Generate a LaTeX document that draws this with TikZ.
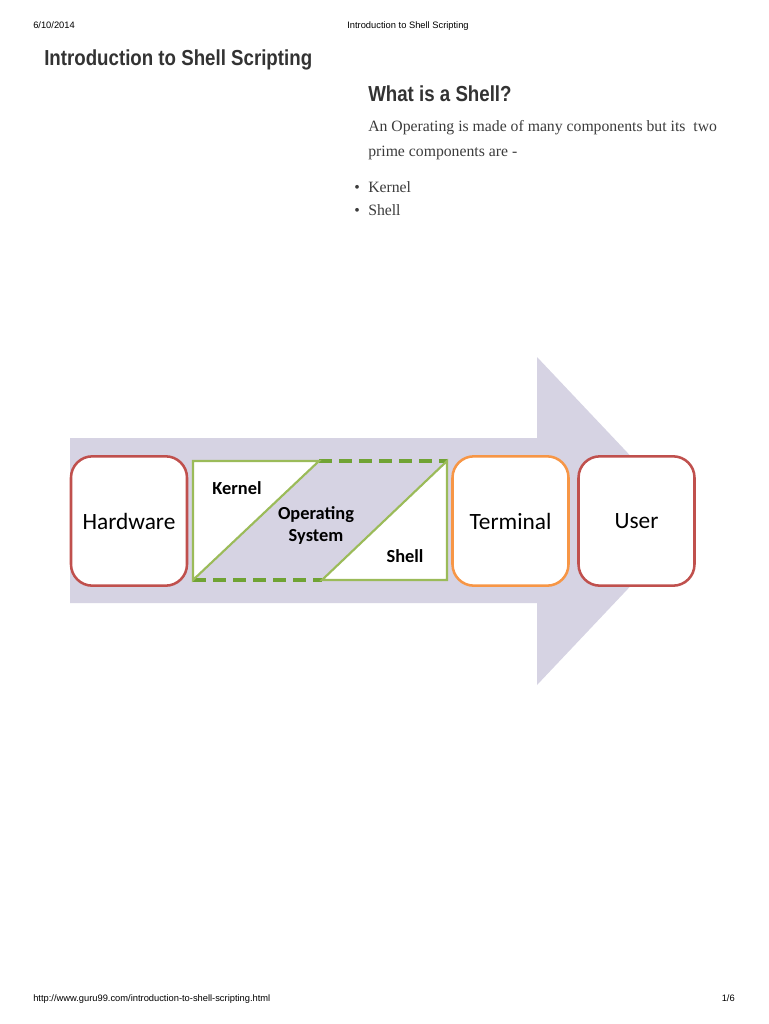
\documentclass[tikz,border=0pt]{standalone}
\usepackage{fontspec}
\setmainfont{Liberation Serif}
\newfontfamily\arialf{Liberation Sans}
\newfontfamily\calf{Carlito}
\definecolor{arrowgray}{RGB}{214,211,227}
\definecolor{boxred}{RGB}{192,80,77}
\definecolor{boxorange}{RGB}{247,150,70}
\definecolor{osgreen}{RGB}{155,187,89}
\definecolor{osdash}{RGB}{112,163,52}
\definecolor{titlegray}{RGB}{51,51,51}
\definecolor{bodygray}{RGB}{60,60,60}
\begin{document}
\begin{tikzpicture}[x=0.75pt,y=-0.75pt,
  stagebox/.style={draw, fill=white, line width=1.9pt, rounded corners=16pt,
    minimum width=87pt, minimum height=97pt, font=\calf\fontsize{17.5}{19}\selectfont, inner sep=0pt},
  oslabel/.style={font=\calf\bfseries\fontsize{13.8}{16.5}\selectfont, align=center, inner sep=0pt},
  hdr/.style={font=\arialf\fontsize{7}{8}\selectfont, inner sep=0pt},
  heading/.style={font=\arialf\bfseries\fontsize{16.3}{18}\selectfont, text=titlegray, inner sep=0pt, anchor=base west},
  bodytext/.style={font=\fontsize{11.8}{14}\selectfont, text=bodygray, inner sep=0pt, anchor=base west},
  solidgreen/.style={draw=osgreen, line width=1.6pt},
  dashgreen/.style={draw=osdash, line width=3pt, dash pattern=on 10pt off 5pt}
]
\useasboundingbox (0,0) rectangle (768,1024);
\fill[white] (0,0) rectangle (768,1024);
% header / footer
\node[hdr, anchor=base west] (date) at (33,29) {6/10/2014};
\node[hdr, anchor=base] (htitle) at (408,29) {Introduction to Shell Scripting};
\node[hdr, anchor=base west] (url) at (33,1001) {http://www.guru99.com/introduction-to-shell-scripting.html};
\node[hdr, anchor=base east] (page) at (735,1001) {1/6};
% headings
\node[heading] (title) at (44,65) {\scalebox{0.86}[1]{Introduction to Shell Scripting}};
\node[heading] (what) at (368,101) {\scalebox{0.86}[1]{What is a Shell?}};
\node[bodytext] (p1) at (368,131) {An Operating is made of many components but its\ \ two};
\node[bodytext] (p2) at (368,156) {prime components are -};
\node[bodytext, anchor=base] (b1) at (357,192) {•};
\node[bodytext] (k1) at (368,192) {Kernel};
\node[bodytext, anchor=base] (b2) at (357,215) {•};
\node[bodytext] (s1) at (368,215) {Shell};
% big arrow
\fill[arrowgray] (70,438) -- (537,438) -- (537,357) -- (692,521) -- (537,685) -- (537,603) -- (70,603) -- cycle;
% boxes
\node[stagebox, draw=boxred] (hw) at (129,521) {Hardware};
\node[stagebox, draw=boxorange] (term) at (510.5,521) {Terminal};
\node[stagebox, draw=boxred] (user) at (636.5,521) {User};
% OS block
\coordinate (tl) at (193,461);
\coordinate (tm) at (319,461);
\coordinate (tr) at (447,461);
\coordinate (bl) at (193,580);
\coordinate (bm) at (322,580);
\coordinate (br) at (447,580);
\fill[white] (tl) -- (tm) -- (bl) -- cycle;
\fill[white] (tr) -- (br) -- (bm) -- cycle;
\draw[dashgreen] (tm) -- (tr);
\draw[dashgreen] (bl) -- (bm);
\draw[solidgreen, line join=miter] (tm) -- (tl) -- (bl) -- cycle;
\draw[solidgreen, line join=miter] (tr) -- (br) -- (bm) -- cycle;
\node[oslabel] (kernel) at (237,488) {Kernel};
\node[oslabel] (os) at (316,525) {Operating\\System};
\node[oslabel] (shell) at (405,556) {Shell};
\end{tikzpicture}
\end{document}
